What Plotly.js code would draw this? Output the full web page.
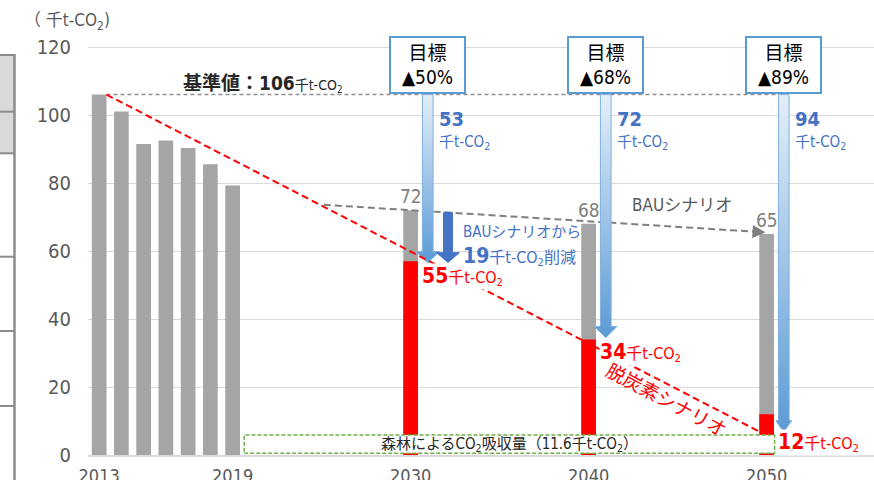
<!DOCTYPE html>
<html>
<head>
<meta charset="utf-8">
<script src="https://cdn.plot.ly/plotly-3.0.1.min.js"></script>
<style>html,body{margin:0;padding:0;background:#fff;}#chart{width:874px;height:480px;}</style>
</head>
<body>
<div id="chart"></div>
<script>
// ---------- data ----------
const histYears   = [2013, 2014, 2015, 2016, 2017, 2018, 2019];
const histValues  = [106, 101, 91.5, 92.5, 90.3, 85.5, 79.3];
const targetYears = [2030, 2040, 2050];
const bauValues   = [72, 68, 65];          // BAU scenario (grey bars)
const decarbValues = [57, 34, 12];         // decarbonisation scenario (red bars)
const decarbLabels = ['55', '34', '12'];
const cutFromBase  = ['53', '72', '94'];   // reduction from base year
const targetCuts   = ['50', '68', '89'];   // target %
const arrowTips    = [56.5, 34.5, 6.8];    // where target arrows end
const baseValue    = 106;
const forestAbsorption = '11.6';
const bauCut2030   = '19';
const bauLineValues    = [73.6, 65.6];
const decarbLineValues = [106, 6.9];
const tickYears    = ['2013', '2019', '2030', '2040', '2050'];

// ---------- helpers ----------
const FONT = "'Liberation Sans Narrow', 'DejaVu Sans Condensed', 'Noto Sans CJK JP', sans-serif";
function slot(y) { y = +y; return y <= 2019 ? y - 2013 : 14 + (y - 2030) * 0.8; }
const BW = 0.66;
const ML = 88, MT = 30, MB = 25, W = 874, H = 480;
const PW = W - ML, PH = H - MT - MB;
const px2paperX = px => (px - ML) / PW;
const px2paperY = py => (H - MB - py) / PH;

function arrowPoly(cx, yTop, yTip, sw, hw, hh) {
  return {
    x: [cx - sw, cx + sw, cx + sw, cx + hw, cx, cx - hw, cx - sw, cx - sw],
    y: [yTop, yTop, yTip + hh, yTip + hh, yTip, yTip + hh, yTip + hh, yTop]
  };
}

const traces = [];
// historical bars
traces.push({type: 'bar', x: histYears.map(slot), y: histValues, width: BW,
  marker: {color: '#a5a5a5'}, hoverinfo: 'skip'});
// BAU bars
traces.push({type: 'bar', x: targetYears.map(slot), y: bauValues, width: BW,
  marker: {color: '#a5a5a5'}, hoverinfo: 'skip'});
// decarb bars
traces.push({type: 'bar', x: targetYears.map(slot), y: decarbValues, width: BW,
  marker: {color: '#ff0000'}, hoverinfo: 'skip'});

// base line (dashed)
traces.push({type: 'scatter', mode: 'lines', x: [slot(2013) + BW / 2, slot(2050) + 0.55], y: [baseValue, baseValue],
  line: {color: '#8f8f8f', width: 1.5, dash: '4px,3px'}, hoverinfo: 'skip'});
// BAU dashed line
const bauX = [slot(2030) - 3.9, slot(2050) - 0.35];
traces.push({type: 'scatter', mode: 'lines', x: bauX, y: bauLineValues,
  line: {color: '#7f7f7f', width: 2, dash: '7px,4px'}, hoverinfo: 'skip'});

// target arrows (gradient)
const arrowOff = 0.77;
const headHalf = [0.52, 0.5, 0.36];
targetYears.forEach((yr, i) => {
  const p = arrowPoly(slot(yr) + arrowOff, baseValue, arrowTips[i], 0.24, headHalf[i], 3.3);
  traces.push({type: 'scatter', mode: 'lines', x: p.x, y: p.y, fill: 'toself',
    fillcolor: '#9dc3e6',
    fillgradient: {type: 'vertical', colorscale: [[0, '#5b9bd5'], [1, '#e3eef9']]},
    line: {color: '#7fb0de', width: 1}, hoverinfo: 'skip'});
});
// dark BAU-reduction arrow
(function () {
  const cx = slot(2030) + 1.68;
  const t = (cx - bauX[0]) / (bauX[1] - bauX[0]);
  const top = bauLineValues[0] + t * (bauLineValues[1] - bauLineValues[0]);
  const p = arrowPoly(cx, top, decarbValues[0] - 0.4, 0.2, 0.51, 2.9);
  traces.push({type: 'scatter', mode: 'lines', x: p.x, y: p.y, fill: 'toself',
    fillcolor: '#4472c4', line: {color: '#4472c4', width: 1}, hoverinfo: 'skip'});
})();
// decarbonisation dashed line
traces.push({type: 'scatter', mode: 'lines', x: [slot(2013) + BW / 2, slot(2050) - BW / 2], y: decarbLineValues,
  line: {color: '#ff0000', width: 2, dash: '7px,4px'}, hoverinfo: 'skip'});

// ---------- shapes ----------
const shapes = [];
// partial table on the far left
const tx0 = px2paperX(0), tx1 = px2paperX(14.5);
shapes.push({type: 'rect', xref: 'paper', yref: 'paper', x0: tx0, x1: tx1, y0: px2paperY(153.3), y1: px2paperY(55),
  fillcolor: '#d9d9d9', line: {width: 0}});
[55, 111.7, 153.3, 256.7, 331, 406].forEach(py => {
  shapes.push({type: 'line', xref: 'paper', yref: 'paper', x0: tx0, x1: tx1, y0: px2paperY(py), y1: px2paperY(py),
    line: {color: '#8c8c8c', width: 2}});
});
shapes.push({type: 'line', xref: 'paper', yref: 'paper', x0: tx1, x1: tx1, y0: px2paperY(54), y1: px2paperY(481),
  line: {color: '#8c8c8c', width: 2.5}});
// forest absorption box
const fx0 = slot(2019) + 0.52, fx1 = slot(2050) + 0.36;
shapes.push({type: 'rect', xref: 'x', yref: 'y', x0: fx0, x1: fx1, y0: 0.5, y1: 5.9,
  fillcolor: '#ffffff', line: {color: '#70ad47', width: 1.5, dash: '4px,2px'}, layer: 'above'});

// ---------- annotations ----------
const ann = [];
const GREY = '#595959', BLUE = '#4472c4', RED = '#ff0000';
ann.push({xref: 'paper', yref: 'paper', x: px2paperX(22), y: px2paperY(8), xanchor: 'left', showarrow: false,
  text: '（ 千t-CO<sub>2</sub>)', font: {family: FONT, size: 17, color: GREY}});
ann.push({xref: 'x', yref: 'y', x: slot(2013) + 3.68, y: baseValue + 3.4, xanchor: 'left', showarrow: false,
  text: '<b>基準値：106</b><span style="font-size:14px">千t-CO<sub>2</sub></span>',
  font: {family: FONT, size: 19, color: '#262626'}});
targetYears.forEach((yr, i) => {
  const cx = slot(yr) + arrowOff;
  ann.push({xref: 'x', yref: 'y', x: cx, y: 114.6, showarrow: false,
    text: '目標<br>▲' + targetCuts[i] + '%', width: 71, height: 52, borderpad: 1,
    bordercolor: '#5b9bd5', borderwidth: 2, bgcolor: '#ffffff',
    font: {family: FONT, size: 19, color: '#000000'}});
  ann.push({xref: 'x', yref: 'y', x: cx, y: baseValue, xanchor: 'left', xshift: 9, yshift: -24, showarrow: false,
    text: '<b>' + cutFromBase[i] + '</b>', font: {family: FONT, size: 20, color: BLUE}});
  ann.push({xref: 'x', yref: 'y', x: cx, y: baseValue, xanchor: 'left', xshift: 9, yshift: -48, showarrow: false,
    text: '千t-CO<sub>2</sub>', font: {family: FONT, size: 15, color: BLUE}});
  ann.push({xref: 'x', yref: 'y', x: slot(yr), y: bauValues[i], yanchor: 'bottom', yshift: 1, showarrow: false,
    text: String(bauValues[i]), font: {family: FONT, size: 19, color: '#7f7f7f'}});
});
const redShift = [-15, -13, -28];
targetYears.forEach((yr, i) => {
  ann.push({xref: 'x', yref: 'y', x: slot(yr) + BW / 2, y: decarbValues[i], xanchor: 'left', xshift: 3, yshift: redShift[i],
    showarrow: false, bgcolor: '#ffffff', borderpad: 0,
    text: '<b>' + decarbLabels[i] + '</b><span style="font-size:16px">千t-CO<sub>2</sub></span>',
    font: {family: FONT, size: 21, color: RED}});
});
ann.push({xref: 'x', yref: 'y', x: 26.2, y: 73.5, showarrow: false,
  text: 'BAUシナリオ', font: {family: FONT, size: 17, color: GREY}});
ann.push({xref: 'x', yref: 'y', x: slot(2030) + 2.27, y: 65.7, xanchor: 'left', showarrow: false,
  text: 'BAUシナリオから', font: {family: FONT, size: 15, color: BLUE}});
ann.push({xref: 'x', yref: 'y', x: slot(2030) + 2.27, y: 58.5, xanchor: 'left', showarrow: false,
  text: '<b>' + bauCut2030 + '</b><span style="font-size:16px">千t-CO<sub>2</sub>削減</span>',
  font: {family: FONT, size: 21, color: BLUE}});
ann.push({xref: 'x', yref: 'y', x: 25.5, y: 16.2, showarrow: false, textangle: 28,
  text: '脱炭素シナリオ', font: {family: FONT, size: 19, color: RED}});
ann.push({xref: 'x', yref: 'y', x: (fx0 + fx1) / 2, y: 3.2, showarrow: false,
  text: '森林によるCO<sub>2</sub>吸収量（' + forestAbsorption + '千t-CO<sub>2</sub>）',
  font: {family: FONT, size: 15, color: '#262626'}});
// BAU arrow head
ann.push({xref: 'x', yref: 'y', axref: 'x', ayref: 'y', x: bauX[1] + 0.3, y: bauLineValues[1] - 0.1,
  ax: bauX[1] - 0.2, ay: bauLineValues[1] + 0.1, showarrow: true, text: '',
  arrowhead: 2, arrowsize: 1.3, arrowwidth: 2, arrowcolor: '#7f7f7f'});

const layout = {
  width: W, height: H,
  margin: {l: ML, r: 0, t: MT, b: MB},
  paper_bgcolor: '#ffffff', plot_bgcolor: '#ffffff',
  showlegend: false, hovermode: false, barmode: 'overlay',
  xaxis: {range: [-0.5, -0.5 + PW / 22.25], tickvals: tickYears.map(slot), ticktext: tickYears,
    showgrid: false, zeroline: false, showline: true, linecolor: '#d9d9d9', linewidth: 1.5,
    ticks: 'outside', ticklen: 4, tickcolor: 'rgba(0,0,0,0)',
    tickfont: {family: FONT, size: 18, color: GREY}, fixedrange: true},
  yaxis: {range: [0, 125], tickvals: [0, 20, 40, 60, 80, 100, 120],
    showgrid: true, gridcolor: '#d9d9d9', gridwidth: 1, zeroline: false, showline: false,
    ticks: 'outside', ticklen: 12, tickcolor: 'rgba(0,0,0,0)',
    tickfont: {family: FONT, size: 20, color: GREY}, fixedrange: true},
  shapes: shapes,
  annotations: ann
};

Plotly.newPlot('chart', traces, layout, {displayModeBar: false, staticPlot: true});
</script>
</body>
</html>
